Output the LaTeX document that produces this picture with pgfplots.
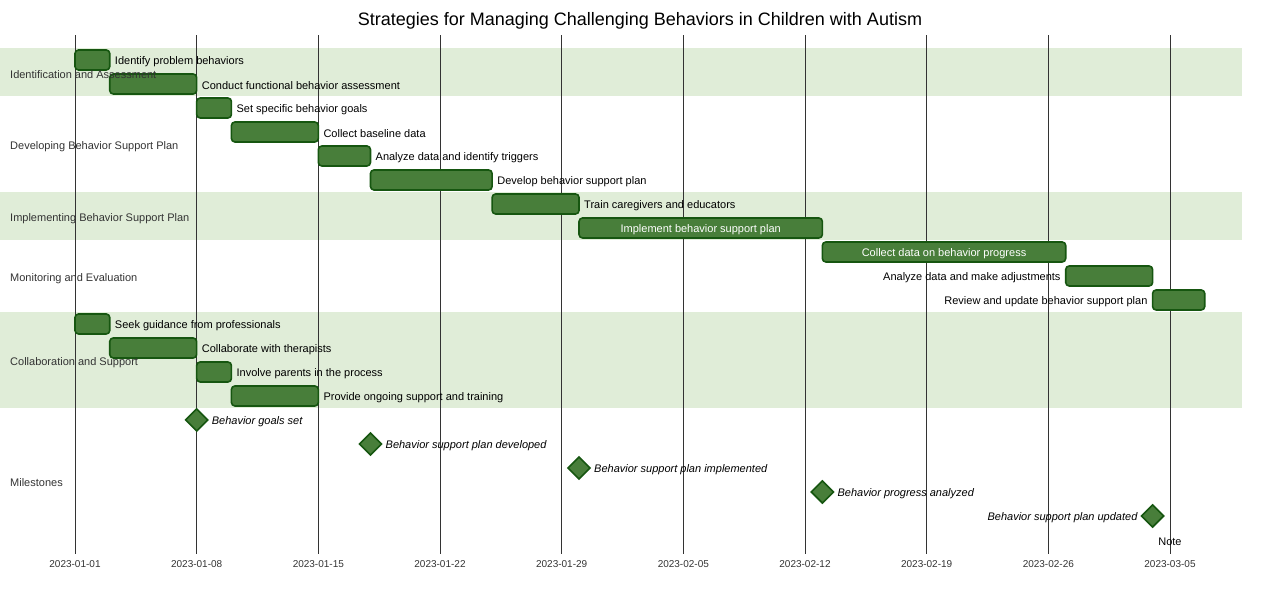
\documentclass[border=0pt]{standalone}
\usepackage{pgfplots}
\pgfplotsset{compat=1.18}
\usepackage{pgfplotstable}
\usepackage{fontspec}
\setmainfont{Liberation Sans}
\definecolor{barfill}{RGB}{72,126,58}
\definecolor{bardraw}{RGB}{22,86,16}
\definecolor{band}{RGB}{224,237,216}
\definecolor{sec}{RGB}{51,51,51}

\pgfplotstableread{
row start dur
-60 0 2
-84 2 5
-108 7 2
-132 9 5
-156 14 3
-180 17 7
-204 24 5
-228 29 14
-252 43 14
-276 57 5
-300 62 3
-324 0 2
-348 2 5
-372 7 2
-396 9 5
}\tasks

\pgfplotsset{gantt/.style={
  at={(0pt,50pt)}, anchor=south west,
  scale only axis, width=1280pt, height=519pt,
  xmin=-4.315, xmax=69.33, ymin=-554, ymax=-35,
  clip=false,
}}

\newcommand{\lab}{\fontsize{11}{13}\selectfont}

\begin{document}
\begin{tikzpicture}[x=1pt,y=1pt]
\path (0,0) rectangle (1280,604);
% section bands (background)
\fill[band] (0,556) rectangle (1242,508);
\fill[band] (0,412) rectangle (1242,364);
\fill[band] (0,292) rectangle (1242,196);
\begin{axis}[gantt,
  axis line style={draw=none},
  ytick=\empty,
  xtick={0,7,14,21,28,35,42,49,56,63},
  xticklabels={2023-01-01,2023-01-08,2023-01-15,2023-01-22,2023-01-29,2023-02-05,2023-02-12,2023-02-19,2023-02-26,2023-03-05},
  major tick length=0pt,
  xmajorgrids, grid style={draw=black!80, line width=0.8pt},
  xticklabel style={font=\fontsize{10}{12}\selectfont, text=sec, yshift=-3pt},
  xbar stacked, bar width=20,
]
\addplot[draw=none, fill=none] table[x=start, y=row]{\tasks};
\addplot[fill=barfill, draw=bardraw, line width=1.6pt, rounded corners=3.5pt] table[x=dur, y=row]{\tasks};
\end{axis}

\begin{axis}[gantt, hide axis]
\addplot[only marks, mark=square*, mark size=7.8pt,
  mark options={rotate=45, fill=barfill, draw=bardraw, line width=1.6pt, rounded corners=1.5pt}]
  coordinates {(7,-420) (17,-444) (29,-468) (43,-492) (62,-516)};

\begin{scope}[every node/.style={font=\lab, text=black, inner sep=0pt, yshift=-2pt}]
\node[anchor=west, xshift=5pt] at (axis cs:2,-60) {Identify problem behaviors};
\node[anchor=west, xshift=5pt] at (axis cs:7,-84) {Conduct functional behavior assessment};
\node[anchor=west, xshift=5pt] at (axis cs:9,-108) {Set specific behavior goals};
\node[anchor=west, xshift=5pt] at (axis cs:14,-132) {Collect baseline data};
\node[anchor=west, xshift=5pt] at (axis cs:17,-156) {Analyze data and identify triggers};
\node[anchor=west, xshift=5pt] at (axis cs:24,-180) {Develop behavior support plan};
\node[anchor=west, xshift=5pt] at (axis cs:29,-204) {Train caregivers and educators};
\node[text=white] at (axis cs:36,-228) {Implement behavior support plan};
\node[text=white] at (axis cs:50,-252) {Collect data on behavior progress};
\node[anchor=east, xshift=-5pt] at (axis cs:57,-276) {Analyze data and make adjustments};
\node[anchor=east, xshift=-5pt] at (axis cs:62,-300) {Review and update behavior support plan};
\node[anchor=west, xshift=5pt] at (axis cs:2,-324) {Seek guidance from professionals};
\node[anchor=west, xshift=5pt] at (axis cs:7,-348) {Collaborate with therapists};
\node[anchor=west, xshift=5pt] at (axis cs:9,-372) {Involve parents in the process};
\node[anchor=west, xshift=5pt] at (axis cs:14,-396) {Provide ongoing support and training};
\node[anchor=west, xshift=15pt] at (axis cs:7,-420) {\itshape Behavior goals set};
\node[anchor=west, xshift=15pt] at (axis cs:17,-444) {\itshape Behavior support plan developed};
\node[anchor=west, xshift=15pt] at (axis cs:29,-468) {\itshape Behavior support plan implemented};
\node[anchor=west, xshift=15pt] at (axis cs:43,-492) {\itshape Behavior progress analyzed};
\node[anchor=east, xshift=-15pt] at (axis cs:62,-516) {\itshape Behavior support plan updated};
\node at (axis cs:63,-540) {Note};
\end{scope}

\begin{scope}[every node/.style={font=\lab, text=sec, inner sep=0pt, anchor=west, xshift=10pt, yshift=-1pt}]
\node at (axis cs:-4.315,-74) {Identification and Assessment};
\node at (axis cs:-4.315,-146) {Developing Behavior Support Plan};
\node at (axis cs:-4.315,-218) {Implementing Behavior Support Plan};
\node at (axis cs:-4.315,-278) {Monitoring and Evaluation};
\node at (axis cs:-4.315,-362) {Collaboration and Support};
\node at (axis cs:-4.315,-482) {Milestones};
\end{scope}
\end{axis}

\node[font=\fontsize{18}{21}\selectfont] at (640,583) {Strategies for Managing Challenging Behaviors in Children with Autism};
\end{tikzpicture}
\end{document}
